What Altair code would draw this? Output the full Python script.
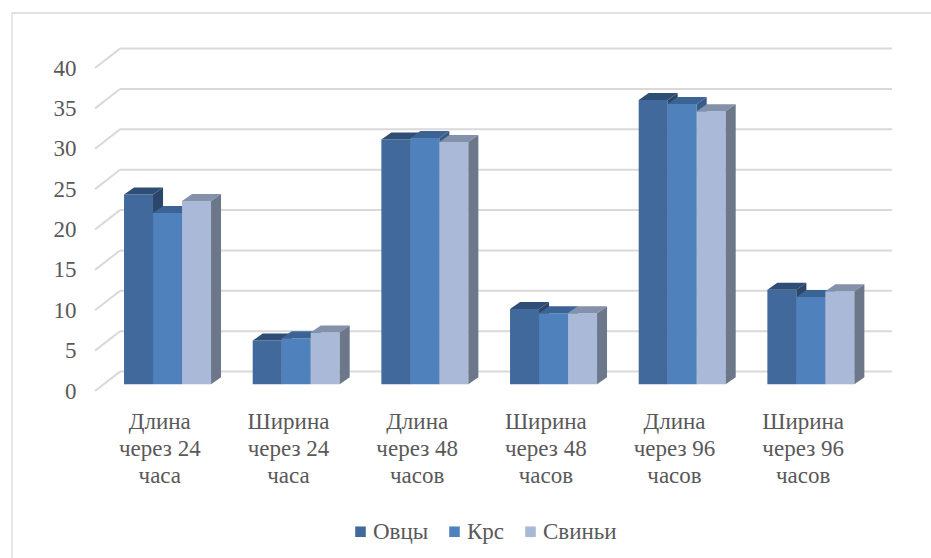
import json
import altair as alt
import pandas as pd

# ---- data -------------------------------------------------------------
CATEGORIES = [
    "Длина\nчерез 24\nчаса",
    "Ширина\nчерез 24\nчаса",
    "Длина\nчерез 48\nчасов",
    "Ширина\nчерез 48\nчасов",
    "Длина\nчерез 96\nчасов",
    "Ширина\nчерез 96\nчасов",
]
SERIES = ["Овцы", "Крс", "Свиньи"]
OVTSY = [23.5, 5.4, 30.3, 9.3, 35.2, 11.7]
KRS = [21.2, 5.7, 30.5, 8.8, 34.7, 10.8]
SVINI = [22.7, 6.4, 30.0, 8.8, 33.8, 11.5]
VALUES = [OVTSY, KRS, SVINI]
Y_TICKS = list(range(0, 41, 5))

# ---- styling ----------------------------------------------------------
FRONT = ["#41699C", "#4F81BD", "#AAB9D7"]
TOP = ["#2F4E76", "#3B6393", "#8391AA"]
SIDE = ["#2B4668", "#375C88", "#6C7789"]
GRID = "#D9D9D9"
TEXT = "#595959"
FONT = "Liberation Serif"

W, H = 797, 342
PAD_L, PAD_T = 95, 49

# pseudo-3D geometry, expressed in scale units
X_MIN = -0.5
X_MAX = len(CATEGORIES) - 0.5
PX_X = 128.67
WALL_DX = 25 / PX_X
X_DOMAIN = [X_MIN, X_MAX + WALL_DX]
PX_X = W / (X_DOMAIN[1] - X_DOMAIN[0])
PX_Y = 8.075
WALL_DY = 19.4 / PX_Y
Y_DOMAIN = [0, H / PX_Y]

BAR_W = 29 / PX_X
BAR_DX = 10 / PX_X
BAR_DY = 7 / PX_Y
BAR_ZX = 8.2 / PX_X
BAR_ZY = 6.8 / PX_Y

SX = alt.Scale(domain=X_DOMAIN, nice=False, zero=False)
SY = alt.Scale(domain=Y_DOMAIN, nice=False, zero=False)

label_array = json.dumps(CATEGORIES, ensure_ascii=False)
X_AXIS = alt.Axis(
    values=list(range(len(CATEGORIES))),
    labelExpr=f"split({label_array}[datum.value], '\\n')",
    title=None,
)
Y_AXIS = alt.Axis(values=Y_TICKS, format="d", title=None)
COLOR_SCALE = alt.Scale(domain=SERIES, range=FRONT)
LEGEND = alt.Legend(
    orient="none", legendX=254, legendY=471, direction="horizontal", title=None,
)

# ---- outer frame ------------------------------------------------------
frame = alt.Chart(alt.Data(values=[{}])).mark_rect(
    fillOpacity=0, stroke=GRID, strokeWidth=1.3
).encode(
    x=alt.value(12 - PAD_L), x2=alt.value(W + 60),
    y=alt.value(13 - PAD_T), y2=alt.value(H + 200),
)

# ---- back-wall gridlines (slanted floor edge + horizontal wall line) --
grid_df = pd.DataFrame({
    "x0": [X_MIN] * len(Y_TICKS),
    "x1": [X_MIN + WALL_DX] * len(Y_TICKS),
    "x2": [X_MAX + WALL_DX] * len(Y_TICKS),
    "v": Y_TICKS,
    "vb": [t + WALL_DY for t in Y_TICKS],
})
grid_slant = alt.Chart(grid_df).mark_rule(color=GRID, strokeWidth=2).encode(
    x=alt.X("x0:Q", scale=SX, axis=X_AXIS), x2="x1:Q",
    y=alt.Y("v:Q", scale=SY, axis=Y_AXIS), y2="vb:Q",
)
grid_back = alt.Chart(grid_df).mark_rule(color=GRID, strokeWidth=2).encode(
    x=alt.X("x1:Q", scale=SX, axis=X_AXIS), x2="x2:Q",
    y=alt.Y("vb:Q", scale=SY, axis=Y_AXIS),
)

# ---- bars: front face, top face, right side face per series ----------
layers = [frame, grid_slant, grid_back]
for s, name in enumerate(SERIES):
    front_rows, top_rows, side_rows = [], [], []
    for i, v in enumerate(VALUES[s]):
        xl = i - 1.5 * BAR_W + s * BAR_W + BAR_ZX
        xr = xl + BAR_W
        y0 = BAR_ZY
        y1 = BAR_ZY + v
        bar = f"{name}-{i}"
        front_rows.append({"series": name, "xl": xl, "xr": xr, "y0": y0, "y1": y1})
        top_rows += [
            {"bar": bar, "x": xl, "lo": y1, "hi": y1},
            {"bar": bar, "x": xl + BAR_DX, "lo": y1, "hi": y1 + BAR_DY},
            {"bar": bar, "x": xr, "lo": y1, "hi": y1 + BAR_DY},
            {"bar": bar, "x": xr + BAR_DX, "lo": y1 + BAR_DY, "hi": y1 + BAR_DY},
        ]
        side_rows += [
            {"bar": bar, "x": xr, "lo": y0, "hi": y1},
            {"bar": bar, "x": xr + BAR_DX, "lo": y0 + BAR_DY, "hi": y1 + BAR_DY},
        ]
    front = alt.Chart(pd.DataFrame(front_rows)).mark_rect().encode(
        x=alt.X("xl:Q", scale=SX, axis=X_AXIS), x2="xr:Q",
        y=alt.Y("y0:Q", scale=SY, axis=Y_AXIS), y2="y1:Q",
        color=alt.Color("series:N", scale=COLOR_SCALE, legend=LEGEND),
    )
    top = alt.Chart(pd.DataFrame(top_rows)).mark_area(
        color=TOP[s], orient="vertical", interpolate="linear"
    ).encode(
        x=alt.X("x:Q", scale=SX, axis=X_AXIS),
        y=alt.Y("lo:Q", scale=SY, axis=Y_AXIS, stack=None), y2="hi:Q",
        detail="bar:N",
    )
    side = alt.Chart(pd.DataFrame(side_rows)).mark_area(
        color=SIDE[s], orient="vertical", interpolate="linear"
    ).encode(
        x=alt.X("x:Q", scale=SX, axis=X_AXIS),
        y=alt.Y("lo:Q", scale=SY, axis=Y_AXIS, stack=None), y2="hi:Q",
        detail="bar:N",
    )
    layers += [front, top, side]

chart = alt.layer(*layers).properties(
    width=W, height=H,
    autosize=alt.AutoSizeParams(type="none"),
    padding={"left": PAD_L, "top": PAD_T, "right": 931 - PAD_L - W, "bottom": 558 - PAD_T - H},
    background="white",
).configure_view(
    stroke=None
).configure_axis(
    ticks=False, tickSize=0, domain=False, grid=False,
    labelFont=FONT, labelFontSize=23, labelColor=TEXT, labelOverlap=False,
).configure_axisX(
    labelLineHeight=27, labelPadding=19, labelBaseline="top",
    labelAlign="center", labelFlush=False,
).configure_axisY(
    labelPadding=19,
).configure_legend(
    symbolType="square", symbolSize=112, symbolStrokeWidth=0,
    symbolOpacity=1, labelFont=FONT, labelFontSize=23, labelColor=TEXT,
    labelOffset=1, columnPadding=14, padding=0,
)

chart.save("out.html", embed_options={"renderer": "svg", "actions": False})
